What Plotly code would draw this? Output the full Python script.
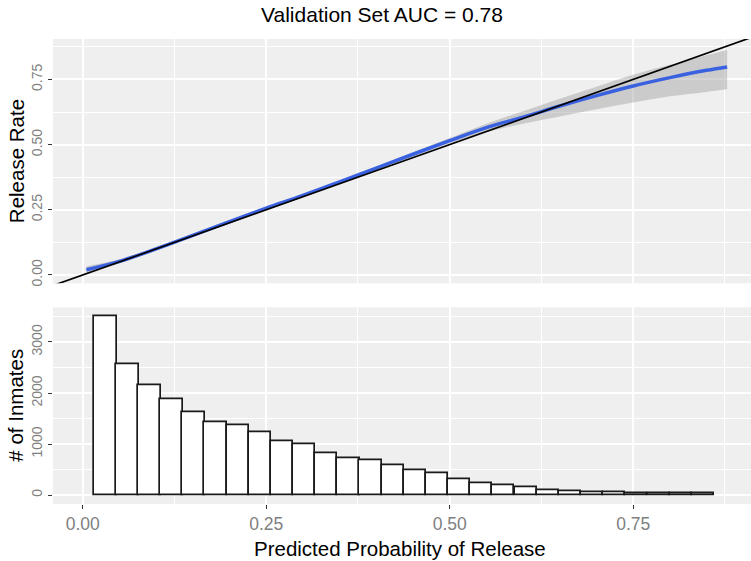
import plotly.graph_objects as go

# ---------------- data ----------------
# calibration (smoothed release rate vs predicted probability)
smooth_x = [0.005, 0.05, 0.10, 0.15, 0.20, 0.25, 0.30, 0.35, 0.40, 0.45, 0.50,
            0.55, 0.60, 0.65, 0.70, 0.75, 0.80, 0.85, 0.878]
smooth_y = [0.020, 0.052, 0.100, 0.152, 0.205, 0.256, 0.305, 0.357, 0.410, 0.463, 0.515,
            0.565, 0.605, 0.648, 0.688, 0.725, 0.757, 0.785, 0.798]
smooth_hi = [0.033, 0.060, 0.106, 0.157, 0.209, 0.260, 0.309, 0.362, 0.416, 0.471, 0.525,
             0.580, 0.628, 0.676, 0.722, 0.768, 0.806, 0.843, 0.863]
smooth_lo = [0.007, 0.044, 0.094, 0.147, 0.201, 0.252, 0.301, 0.352, 0.404, 0.455, 0.505,
             0.548, 0.580, 0.608, 0.636, 0.661, 0.685, 0.702, 0.712]

# perfect-calibration reference line y = x
ref_x = [-0.1, 1.0]

# histogram of predicted probabilities
bin_centers = [0.031, 0.061, 0.091, 0.121, 0.151, 0.181, 0.211, 0.242, 0.272, 0.302,
               0.332, 0.362, 0.392, 0.423, 0.453, 0.483, 0.513, 0.543, 0.573, 0.604,
               0.634, 0.664, 0.694, 0.724, 0.754, 0.785, 0.815, 0.845]
bin_counts = [3496, 2555, 2150, 1876, 1621, 1425, 1366, 1222, 1046, 994,
              817, 712, 680, 588, 477, 418, 300, 232, 196, 147,
              85, 75, 60, 55, 40, 42, 28, 33]
bin_width = 0.0302

x_ticks = [0.0, 0.25, 0.5, 0.75]
rate_ticks = [0.0, 0.25, 0.5, 0.75]
count_ticks = [0, 1000, 2000, 3000]

title_text = "Validation Set AUC = 0.78"

# ---------------- figure ----------------
FONT = "Liberation Sans, Arial, Helvetica, sans-serif"
TICK_GREY = "#7F7F7F"
PANEL = "#EFEFEF"

fig = go.Figure()

fig.add_trace(go.Scatter(
    x=smooth_x, y=smooth_lo, mode="lines", line=dict(width=0, shape="spline"),
    hoverinfo="skip", showlegend=False, xaxis="x", yaxis="y"))
fig.add_trace(go.Scatter(
    x=smooth_x, y=smooth_hi, mode="lines", line=dict(width=0, shape="spline"),
    fill="tonexty", fillcolor="rgba(153,153,153,0.42)",
    hoverinfo="skip", showlegend=False, xaxis="x", yaxis="y"))
fig.add_trace(go.Scatter(
    x=smooth_x, y=smooth_y, mode="lines", line=dict(color="#3a62e0", width=3.5, shape="spline"),
    showlegend=False, xaxis="x", yaxis="y"))
fig.add_trace(go.Scatter(
    x=ref_x, y=ref_x, mode="lines", line=dict(color="black", width=1.7),
    showlegend=False, xaxis="x", yaxis="y"))

fig.add_trace(go.Bar(
    x=bin_centers, y=bin_counts, width=bin_width,
    marker=dict(color="white", line=dict(color="#1a1a1a", width=1.7)),
    showlegend=False, xaxis="x2", yaxis="y2"))

xr = [-0.0405, 0.9105]
common_grid = dict(showgrid=True, gridcolor="white", gridwidth=2, zeroline=False,
                   showline=False)

fig.update_layout(
    width=751, height=561,
    margin=dict(l=53, r=0, t=39, b=57),
    paper_bgcolor="white", plot_bgcolor=PANEL,
    font=dict(family=FONT),
    bargap=0,
    title=dict(text=title_text, x=382 / 751, xref="container", xanchor="center",
               y=1 - 15 / 561, yref="container", yanchor="middle",
               font=dict(size=21, color="black", family=FONT)),
    xaxis=dict(domain=[0, 1], anchor="y", range=xr, tickvals=x_ticks,
               showticklabels=False, ticks="",
               minor=dict(dtick=0.125, tick0=0, showgrid=True, gridcolor="white", gridwidth=1),
               **common_grid),
    yaxis=dict(domain=[0.4746, 1], anchor="x", range=[-0.032, 0.905], tickvals=rate_ticks,
               tickformat=".2f", tickangle=-90, ticks="outside", ticklen=4, tickwidth=1.2,
               tickcolor="#333333", tickfont=dict(size=14, color=TICK_GREY),
               minor=dict(dtick=0.125, tick0=0.125, showgrid=True, gridcolor="white", gridwidth=1),
               **common_grid),
    xaxis2=dict(domain=[0, 1], anchor="y2", range=xr, tickvals=x_ticks, tickformat=".2f",
                ticks="outside", ticklen=4, tickwidth=1.2, tickcolor="#333333",
                tickfont=dict(size=17.5, color=TICK_GREY),
                minor=dict(dtick=0.125, tick0=0, showgrid=True, gridcolor="white", gridwidth=1),
                **common_grid),
    yaxis2=dict(domain=[0, 0.423], anchor="x2", range=[-176, 3680], tickvals=count_ticks,
                tickangle=-90, ticks="outside", ticklen=4, tickwidth=1.2, tickcolor="#333333",
                tickfont=dict(size=14, color=TICK_GREY),
                minor=dict(dtick=500, tick0=500, showgrid=True, gridcolor="white", gridwidth=1),
                **common_grid),
    annotations=[
        dict(text="Release Rate", textangle=-90, xref="paper", x=0, xshift=-37,
             yref="y domain", y=0.5, xanchor="center", yanchor="middle", showarrow=False,
             font=dict(size=20.5, color="black", family=FONT)),
        dict(text="# of Inmates", textangle=-90, xref="paper", x=0, xshift=-37,
             yref="y2 domain", y=0.5, xanchor="center", yanchor="middle", showarrow=False,
             font=dict(size=20.5, color="black", family=FONT)),
        dict(text="Predicted Probability of Release", xref="paper", x=(400 - 53) / 698,
             yref="paper", y=0, yshift=-44, xanchor="center", yanchor="middle",
             showarrow=False, font=dict(size=20.5, color="black", family=FONT)),
    ],
)

fig.write_html("out.html")
